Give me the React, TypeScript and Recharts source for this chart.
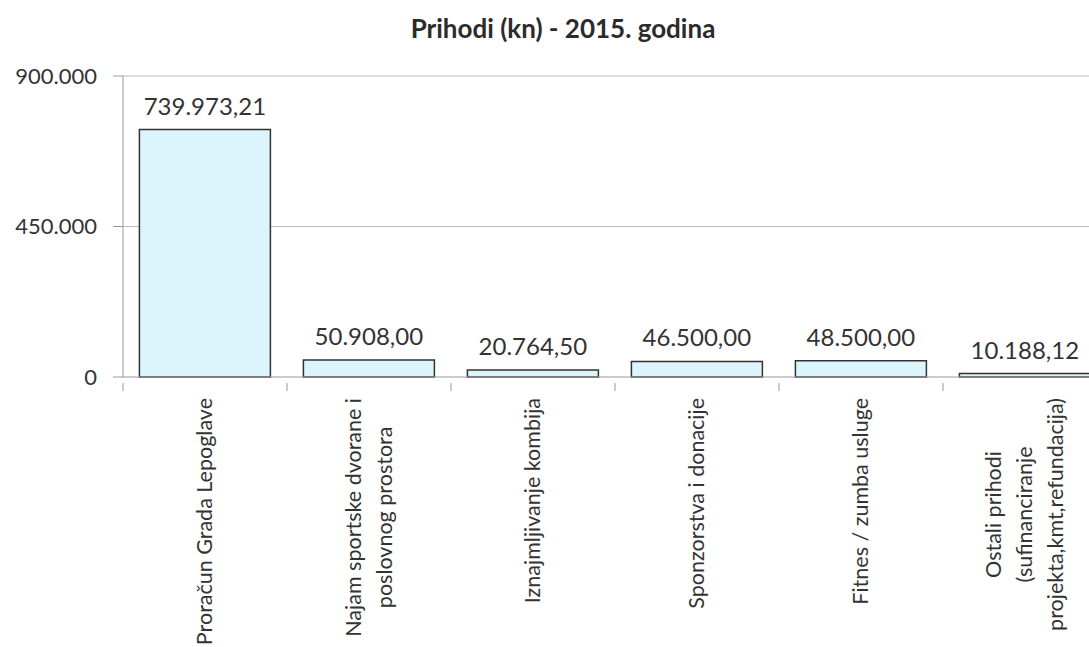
import { Bar, BarChart, CartesianGrid, LabelList, XAxis, YAxis } from "recharts";

const CATEGORIES = [
  ["Proračun Grada Lepoglave"],
  ["Najam sportske dvorane i", "poslovnog prostora"],
  ["Iznajmljivanje kombija"],
  ["Sponzorstva i donacije"],
  ["Fitnes / zumba usluge"],
  ["Ostali prihodi", "(sufinanciranje", "projekta,kmt,refundacija)"],
];
const VALUES = [739973.21, 50908.0, 20764.5, 46500.0, 48500.0, 10188.12];
const Y_TICKS = [0, 450000, 900000];

const FONT = "Lato, 'Open Sans', sans-serif";
const TEXT = "#333";

const CHART_W = 1107;
const AXIS_W = 123;
const BAND = (CHART_W - AXIS_W) / CATEGORIES.length;

const data = CATEGORIES.map((lines, i) => ({ name: lines.join("\n"), value: VALUES[i] }));

function groupThousands(n: number) {
  return String(n).replace(/\B(?=(\d{3})+(?!\d))/g, ".");
}
const fmtTick = (v: number) => groupThousands(Math.round(v));
const fmtValue = (v: number) => {
  const [int, dec] = v.toFixed(2).split(".");
  return groupThousands(Number(int)) + "," + dec;
};

let ctx: CanvasRenderingContext2D | null = null;
function measure(text: string, size: number) {
  if (!ctx) ctx = document.createElement("canvas").getContext("2d");
  if (!ctx) return text.length * size * 0.5;
  ctx.font = `${size}px Lato`;
  return ctx.measureText(text).width;
}

const LABEL_SIZE = 21.5;
const LINE_GAP = 31;

// category labels read bottom-to-top, lines centred on the longest one;
// also draws the boundary tick on the right side of each band
function CategoryTick({ x, y, payload }: any) {
  const lines = String(payload.value).split("\n");
  const longest = Math.max(...lines.map((l) => measure(l, LABEL_SIZE)));
  const shift = ((lines.length - 1) * LINE_GAP) / 2;
  const axisY = y - 2;
  return (
    <g>
      {payload.index === 0 && (
        <line x1={x - BAND / 2} x2={x - BAND / 2} y1={axisY} y2={axisY + 8} stroke="#999" />
      )}
      <line x1={x + BAND / 2} x2={x + BAND / 2} y1={axisY} y2={axisY + 8} stroke="#999" />
      <g transform={`translate(${x},${y + 13}) rotate(-90)`}>
        {lines.map((line, i) => (
          <text
            key={i}
            x={-longest / 2}
            y={i * LINE_GAP - shift + 7}
            textAnchor="middle"
            fontSize={LABEL_SIZE}
            fontFamily={FONT}
            fill={TEXT}
          >
            {line}
          </text>
        ))}
      </g>
    </g>
  );
}

export default function App() {
  return (
    <div
      style={{
        position: "absolute",
        left: 0,
        top: 0,
        width: 1089,
        height: 647,
        overflow: "hidden",
        background: "#fff",
      }}
    >
      <div
        style={{
          position: "absolute",
          left: 0,
          width: 1126,
          top: 12,
          textAlign: "center",
          fontFamily: FONT,
          fontWeight: 700,
          fontSize: 26,
          color: "#2b2b2b",
        }}
      >
        Prihodi (kn) - 2015. godina
      </div>
      <BarChart
        width={CHART_W}
        height={647}
        data={data}
        margin={{ top: 76, right: 0, left: 0, bottom: 0 }}
        barCategoryGap="10%"
      >
        <CartesianGrid vertical={false} stroke="#bdbdbd" horizontalValues={[450000, 900000]} />
        <XAxis
          dataKey="name"
          height={270}
          interval={0}
          stroke="#999"
          tickLine={false}
          tick={<CategoryTick />}
        />
        <YAxis
          width={AXIS_W}
          domain={[0, 900000]}
          ticks={Y_TICKS}
          tickFormatter={fmtTick}
          stroke="#999"
          tickSize={10}
          tickMargin={16}
          tick={{ fontSize: 22, fontFamily: FONT, fill: TEXT }}
        />
        <Bar dataKey="value" fill="#dcf4fb" stroke="#333" strokeWidth={1.5} isAnimationActive={false}>
          <LabelList
            dataKey="value"
            position="top"
            offset={15}
            formatter={(v: any) => fmtValue(Number(v))}
            style={{ fontSize: 24, fontFamily: FONT, fill: TEXT }}
          />
        </Bar>
      </BarChart>
    </div>
  );
}
